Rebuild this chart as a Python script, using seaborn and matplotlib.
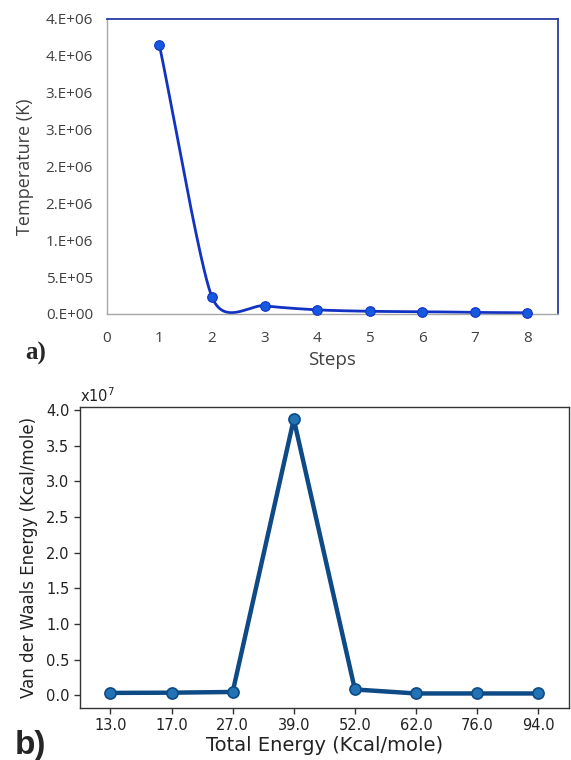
import matplotlib
matplotlib.use("Agg")
import matplotlib.pyplot as plt
import numpy as np
import pandas as pd
import seaborn as sns

# panel a) temperature per step
steps = [1, 2, 3, 4, 5, 6, 7, 8]
temperature_k = [3.65e6, 2.3e5, 1.1e5, 5.5e4, 3.5e4, 3.0e4, 2.0e4, 1.5e4]
temp_ticks = [0, 0.5e6, 1.0e6, 1.5e6, 2.0e6, 2.5e6, 3.0e6, 3.5e6, 4.0e6]
temp_tick_labels = ["0.E+00", "5.E+05", "1.E+06", "2.E+06", "2.E+06",
                    "3.E+06", "3.E+06", "4.E+06", "4.E+06"]
step_ticks = [0, 1, 2, 3, 4, 5, 6, 7, 8]

# panel b) van der Waals energy vs total energy
total_energy = ["13.0", "17.0", "27.0", "39.0", "52.0", "62.0", "76.0", "94.0"]
vdw_energy = [0.032e7, 0.035e7, 0.045e7, 3.87e7, 0.08e7, 0.024e7, 0.024e7, 0.024e7]
vdw_ticks = [0, 0.5e7, 1.0e7, 1.5e7, 2.0e7, 2.5e7, 3.0e7, 3.5e7, 4.0e7]


def smooth_curve(x, y, yscale, k=0.28, n=60):
    # Excel-like smoothed line: Bezier segments, tangent from neighbours,
    # control distance from the geometric mean of adjacent segment lengths
    pts = np.column_stack([np.asarray(x, float), np.asarray(y, float) * yscale])
    xs, ys = [], []
    last = len(pts) - 1
    for i in range(last):
        p0, p1 = pts[max(i - 1, 0)], pts[i]
        p2, p3 = pts[i + 1], pts[min(i + 2, last)]
        d01 = np.linalg.norm(p1 - p0)
        d12 = np.linalg.norm(p2 - p1)
        d23 = np.linalg.norm(p3 - p2)
        l1 = np.sqrt(d01 * d12) if d01 > 0 else d12
        l2 = np.sqrt(d12 * d23) if d23 > 0 else d12
        t1 = (p2 - p0) / np.linalg.norm(p2 - p0)
        t2 = (p3 - p1) / np.linalg.norm(p3 - p1)
        c1 = p1 + t1 * l1 * k
        c2 = p2 - t2 * l2 * k
        t = np.linspace(0, 1, n)[:, None]
        seg = ((1 - t) ** 3) * p1 + 3 * ((1 - t) ** 2) * t * c1 + 3 * (1 - t) * t ** 2 * c2 + t ** 3 * p2
        xs.extend(seg[:, 0])
        ys.extend(seg[:, 1] / yscale)
    return np.array(xs), np.array(ys)


sns.set_style("white")
plt.rcParams["font.family"] = ["DejaVu Sans"]

fig = plt.figure(figsize=(5.71, 7.60), dpi=100)

# ---- panel a)
ax1 = fig.add_axes([0.187, 0.587, 0.790, 0.388])
sx, sy = smooth_curve(steps, temperature_k, yscale=73.75 / 52.6 / 1e6)
sns.lineplot(x=sx, y=sy, sort=False, estimator=None, color="#1232c4", linewidth=2.0, ax=ax1)
sns.scatterplot(x=steps, y=temperature_k, color="#1559e0", edgecolor="#1232c4",
                s=48, linewidth=0.8, zorder=3, clip_on=False, ax=ax1)
ax1.set_xlim(0, 8.58)
ax1.set_ylim(0, 4.0e6)
ax1.set_xticks(step_ticks)
ax1.set_xticklabels([str(s) for s in step_ticks], family="Open Sans", fontsize=11, color="#404040")
ax1.set_yticks(temp_ticks)
ax1.set_yticklabels(temp_tick_labels, family="Open Sans", fontsize=11, color="#404040")
ax1.tick_params(axis="y", length=0, pad=10)
ax1.tick_params(axis="x", length=0, pad=12)
for side in ["top", "right"]:
    ax1.spines[side].set_color("#2b3b9e")
    ax1.spines[side].set_linewidth(1.3)
for side in ["left", "bottom"]:
    ax1.spines[side].set_color("#a6a6a6")
    ax1.spines[side].set_linewidth(1.0)
ax1.set_xlabel("Steps", family="Open Sans", fontsize=13.5, color="#404040", labelpad=4)
ax1.set_ylabel("Temperature (K)", family="Open Sans", fontsize=13, color="#404040", labelpad=8)
fig.text(0.045, 0.527, "a)", family="Liberation Serif", fontweight="bold", fontsize=18)

# ---- panel b)
ax2 = fig.add_axes([0.140, 0.0684, 0.856, 0.396])
df_b = pd.DataFrame({"total": total_energy, "vdw": vdw_energy})
sns.pointplot(data=df_b, x="total", y="vdw", order=total_energy, color="#1f6fae",
              markers="o", markersize=8, linewidth=3.2, ax=ax2)
for line in ax2.lines:
    line.set_color("#0d4a86")
    line.set_markerfacecolor("#2372b4")
    line.set_markeredgecolor("#0d4a86")
    line.set_markeredgewidth(1.2)
ax2.set_xlim(-0.5, 7.5)
ax2.set_ylim(-0.18e7, 4.04e7)
ax2.set_yticks(vdw_ticks)
ax2.set_yticklabels([f"{v / 1e7:.1f}" for v in vdw_ticks], fontsize=10.5, color="#222222")
ax2.tick_params(axis="x", labelsize=10.5, colors="#222222")
ax2.tick_params(direction="out", length=4, width=1, bottom=True, left=True, color="#333333")
for side in ax2.spines:
    ax2.spines[side].set_color("#333333")
    ax2.spines[side].set_linewidth(1.0)
ax2.set_xlabel("Total Energy (Kcal/mole)", fontsize=14, color="#222222", labelpad=2)
ax2.set_ylabel("Van der Waals Energy (Kcal/mole)", fontsize=12, color="#222222", labelpad=6)
ax2.text(0.0, 1.008, "x10$^7$", transform=ax2.transAxes, fontsize=10.5, color="#222222",
         ha="left", va="bottom")
fig.text(0.025, 0.008, "b)", family="Liberation Sans", fontweight="bold", fontsize=24)

fig.savefig("out.png", dpi=100)
